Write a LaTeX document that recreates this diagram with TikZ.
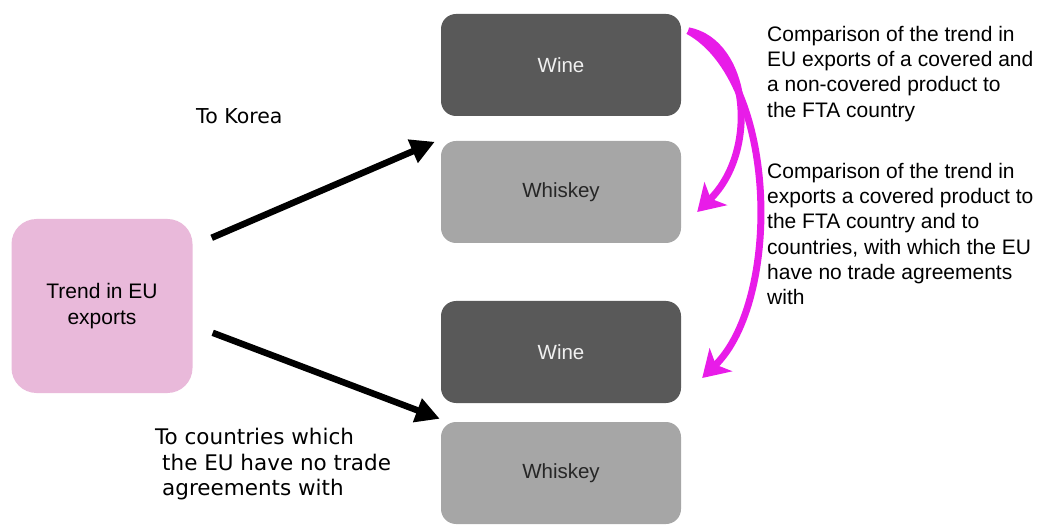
\documentclass[tikz,border=0pt]{standalone}
\usepackage{fontspec}
\setmainfont{Liberation Sans}
\newfontfamily\labelfont{DejaVu Sans}
\usepackage{tikz}
\usetikzlibrary{positioning, calc}
\usetikzlibrary{arrows.meta}
\definecolor{cPink}{RGB}{233,185,218}
\definecolor{cDark}{RGB}{89,89,89}
\definecolor{cLight}{RGB}{166,166,166}
\definecolor{cMag}{RGB}{232,28,232}

\begin{document}
\begin{tikzpicture}[x=1pt, y=-1pt, node distance=127pt, on grid,
    box/.style={rounded corners=15pt, minimum width=240pt, minimum height=102pt, inner sep=0pt, font=\fontsize{20.5}{24}\selectfont},
    winebox/.style={box, fill=cDark, text=white!94!black},
    whiskeybox/.style={box, fill=cLight, text=black!85},
    sidetext/.style={anchor=north west, inner sep=0pt, align=left, font=\fontsize{21}{25.2}\selectfont},
    blk/.style={line width=6.5pt, -{Triangle[length=24pt, width=24pt]}},
    mag/.style={line width=7pt, cMag, -{Stealth[length=26pt, width=32pt, inset=7pt]}}]
    \useasboundingbox (0,0) rectangle (1041,526);

    \node[rounded corners=25pt, fill=cPink, minimum width=181pt, minimum height=174pt, align=center, font=\fontsize{21}{26}\selectfont] (trend) at (102,306) {Trend in EU\\exports};

    \node[winebox] (W1) at (561,65) {Wine};
    \node[whiskeybox] (K1) [below=of W1] {Whiskey};
    \node[winebox] (W2) at (561,352) {Wine};
    \node[whiskeybox] (K2) [below=121pt of W2] {Whiskey};

    \node[sidetext, font=\labelfont\fontsize{20.5}{25}\selectfont] (korea) at (196,108) {To Korea};
    \node[sidetext, font=\labelfont\fontsize{21.5}{25.5}\selectfont] (others) at (155,428) {To countries which\\\hspace*{7pt}the EU have no trade\\\hspace*{7pt}agreements with};

    \node[sidetext] (cmp1) at (767,26) {Comparison of the trend in\\EU exports of a covered and\\a non-covered product to\\the FTA country};
    \node[sidetext] (cmp2) at (767,163) {Comparison of the trend in\\exports a covered product to\\the FTA country and to\\countries, with which the EU\\have no trade agreements\\with};

    \coordinate (a1) at ($(trend.north east)+(19,19)$);
    \coordinate (a2) at ($(trend.north east)+(20,114)$);
    \coordinate (t1) at ($(K1.north west)+(-6,1)$);
    \coordinate (t2) at ($(K2.north west)+(-1,-3)$);
    \coordinate (m0) at ($(W1.north east)+(7,17)$);
    \coordinate (m1) at ($(K1.east)+(16,20)$);
    \coordinate (m2) at ($(W2.east)+(21,26)$);

    \draw[blk] (a1) -- (t1);
    \draw[blk] (a2) -- (t2);
    \draw[mag] (m0) .. controls (748,42) and (760,150) .. (m1); % covered vs non-covered
    \draw[mag] (m0) .. controls (778,80) and (782,300) .. (m2);
\end{tikzpicture}
\end{document}
